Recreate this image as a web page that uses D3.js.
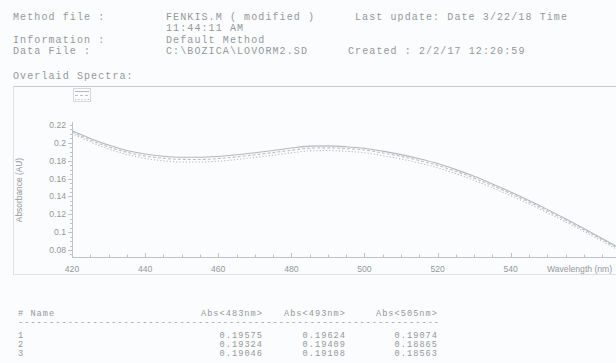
<!DOCTYPE html>
<html>
<head>
<meta charset="utf-8">
<script src="https://cdn.jsdelivr.net/npm/d3@7/dist/d3.min.js"></script>
<style>
  html, body { margin: 0; padding: 0; background: #fbfcfd; }
  svg { display: block; }
</style>
</head>
<body>
<svg id="chart" width="616" height="363"></svg>
<script>
// Wavelength grid (nm) and the three overlaid absorbance spectra
const wavelengths = [420,425,430,435,440,445,450,455,460,465,470,475,480,485,490,495,
                     500,505,510,515,520,525,530,535,540,545,550,555,560,565,570];
const spectrum1 = [0.2135,0.2050,0.1975,0.1915,0.1875,0.1850,0.1838,0.1838,0.1848,0.1866,
                   0.1890,0.1915,0.1942,0.1963,0.1966,0.1957,0.1940,0.1907,0.1868,0.1822,
                   0.1768,0.1700,0.1625,0.1540,0.1450,0.1355,0.1255,0.1150,0.1042,0.0930,0.0815];
const spectrum2 = [0.2120,0.2032,0.1955,0.1895,0.1853,0.1827,0.1815,0.1814,0.1824,0.1842,
                   0.1866,0.1891,0.1917,0.1940,0.1944,0.1936,0.1920,0.1887,0.1848,0.1802,
                   0.1748,0.1680,0.1605,0.1521,0.1432,0.1338,0.1239,0.1135,0.1028,0.0917,0.0803];
const spectrum3 = [0.2105,0.2012,0.1932,0.1870,0.1826,0.1799,0.1786,0.1786,0.1795,0.1813,
                   0.1837,0.1862,0.1888,0.1910,0.1914,0.1906,0.1890,0.1857,0.1819,0.1774,
                   0.1721,0.1654,0.1580,0.1497,0.1409,0.1316,0.1218,0.1115,0.1009,0.0899,0.0786];

const xTicks = [420,440,460,480,500,520,540];
const yTicks = [0.08,0.1,0.12,0.14,0.16,0.18,0.2,0.22];
const yTickLabels = ["0.08","0.1","0.12","0.14","0.16","0.18","0.2","0.22"];

// Report header and results table
const headerLeft = ["Method file :", "", "Information :", "Data File   :"];
const headerMid = ["FENKIS.M ( modified )", "11:44:11 AM", "Default Method", "C:\\BOZICA\\LOVORM2.SD"];
const lastUpdate = "Last update: Date 3/22/18  Time";
const created = "Created : 2/2/17 12:20:59";
const tableColumns = ["Abs<483nm>", "Abs<493nm>", "Abs<505nm>"];
const sampleIds = ["1", "2", "3"];
const abs483 = ["0.19575", "0.19324", "0.19046"];
const abs493 = ["0.19624", "0.19409", "0.19108"];
const abs505 = ["0.19074", "0.18865", "0.18563"];

const svg = d3.select("#chart");
const ink = "#93989c";
const faint = "#bfc3c6";
const mono = "'Liberation Mono', 'DejaVu Sans Mono', monospace";
const sans = "'Liberation Sans', Arial, sans-serif";

// ---- report header (monospace, ~7.1px per character) ----
const hdr = svg.append("g").attr("font-family", mono).attr("font-size", 10)
  .attr("letter-spacing", 1.1).attr("fill", ink);
const hdrY = [19.5, 31, 43, 54];
headerLeft.forEach((t, i) => hdr.append("text").attr("x", 13).attr("y", hdrY[i]).text(t));
headerMid.forEach((t, i) => hdr.append("text").attr("x", 166).attr("y", hdrY[i]).text(t));
hdr.append("text").attr("x", 355).attr("y", hdrY[0]).text(lastUpdate);
hdr.append("text").attr("x", 348).attr("y", hdrY[3]).text(created);
hdr.append("text").attr("x", 13).attr("y", 79).text("Overlaid Spectra:");

// frame around the spectra panel
svg.append("line").attr("x1", 13).attr("x2", 616).attr("y1", 86.5).attr("y2", 86.5)
  .attr("stroke", "#c4c8cb").attr("stroke-width", 1);
svg.append("line").attr("x1", 13.5).attr("x2", 13.5).attr("y1", 86.5).attr("y2", 274.5)
  .attr("stroke", "#dfe2e4").attr("stroke-width", 1);
svg.append("line").attr("x1", 13).attr("x2", 616).attr("y1", 274.5).attr("y2", 274.5)
  .attr("stroke", "#dfe2e4").attr("stroke-width", 1);

// ---- scales ----
const x = d3.scaleLinear().domain([420, 570]).range([72, 620.4]);
const y = d3.scaleLinear().domain([0.08, 0.22]).range([250, 125]);
const yBottom = 257;

// axes
const axes = svg.append("g").attr("stroke", faint).attr("stroke-width", 1);
axes.append("line").attr("x1", 72).attr("x2", 616).attr("y1", yBottom + 0.5).attr("y2", yBottom + 0.5);
axes.append("line").attr("x1", 72.5).attr("x2", 72.5).attr("y1", y(0.2235)).attr("y2", yBottom);

const xMinor = d3.range(420, 571, 5);
axes.selectAll(".xm").data(xMinor).join("line")
  .attr("x1", d => Math.round(x(d)) + 0.5).attr("x2", d => Math.round(x(d)) + 0.5)
  .attr("y1", yBottom).attr("y2", d => xTicks.includes(d) ? yBottom - 4 : yBottom - 2.5);

const yMinor = d3.range(0.075, 0.2226, 0.005);
axes.selectAll(".ym").data(yMinor).join("line")
  .attr("x1", 72).attr("x2", d => (Math.abs((d * 100) % 2) < 0.01 ? 68 : 70))
  .attr("y1", d => Math.round(y(d)) + 0.5).attr("y2", d => Math.round(y(d)) + 0.5);

// tick labels
const labels = svg.append("g").attr("font-family", sans).attr("font-size", 8.6).attr("fill", ink);
labels.selectAll(".xl").data(xTicks).join("text")
  .attr("x", d => x(d)).attr("y", 272).attr("text-anchor", "middle").text(d => d);
labels.append("text").attr("x", 547).attr("y", 272).text("Wavelength (nm)");
labels.selectAll(".yl").data(yTicks).join("text")
  .attr("x", 66).attr("y", d => y(d) + 3).attr("text-anchor", "end")
  .text((d, i) => yTickLabels[i]);
labels.append("text").attr("transform", "translate(22,190) rotate(-90)")
  .attr("text-anchor", "middle").attr("font-size", 8.4).text("Absorbance (AU)");

// ---- spectra ----
const series = [
  { values: spectrum1, dash: null, color: "#b4b8bb" },
  { values: spectrum2, dash: "3,2", color: "#bcc0c3" },
  { values: spectrum3, dash: "1.2,2", color: "#b8bcbf" }
];
const line = d3.line().x((d, i) => x(wavelengths[i])).y(d => y(d)).curve(d3.curveMonotoneX);
svg.append("g").selectAll("path").data(series).join("path")
  .attr("d", s => line(s.values))
  .attr("fill", "none").attr("stroke", s => s.color).attr("stroke-width", 1.1)
  .attr("stroke-dasharray", s => s.dash);

// legend swatch box
const lg = svg.append("g");
lg.append("rect").attr("x", 73.5).attr("y", 88.5).attr("width", 17).attr("height", 13)
  .attr("fill", "none").attr("stroke", "#d6d9dc");
series.forEach((s, i) => {
  lg.append("line").attr("x1", 75).attr("x2", 89)
    .attr("y1", 91.5 + i * 4).attr("y2", 91.5 + i * 4)
    .attr("stroke", s.color).attr("stroke-dasharray", s.dash);
});

// ---- results table (monospace, ~6.2px per character) ----
const tbl = svg.append("g").attr("font-family", mono).attr("font-size", 8.6)
  .attr("letter-spacing", 1.05).attr("fill", ink);
const colRight = [262, 345, 437];
tbl.append("text").attr("x", 18).attr("y", 316).text("#  Name");
tableColumns.forEach((c, i) => tbl.append("text").attr("x", colRight[i] + 1).attr("y", 316)
  .attr("text-anchor", "end").text(c));
tbl.append("text").attr("x", 18).attr("y", 325).text("-".repeat(68));
const cols = [abs483, abs493, abs505];
sampleIds.forEach((id, r) => {
  const yy = 338 + r * 9;
  tbl.append("text").attr("x", 18).attr("y", yy).text(id);
  cols.forEach((col, c) => tbl.append("text").attr("x", colRight[c] + 1).attr("y", yy)
    .attr("text-anchor", "end").text(col[r]));
});
</script>
</body>
</html>
